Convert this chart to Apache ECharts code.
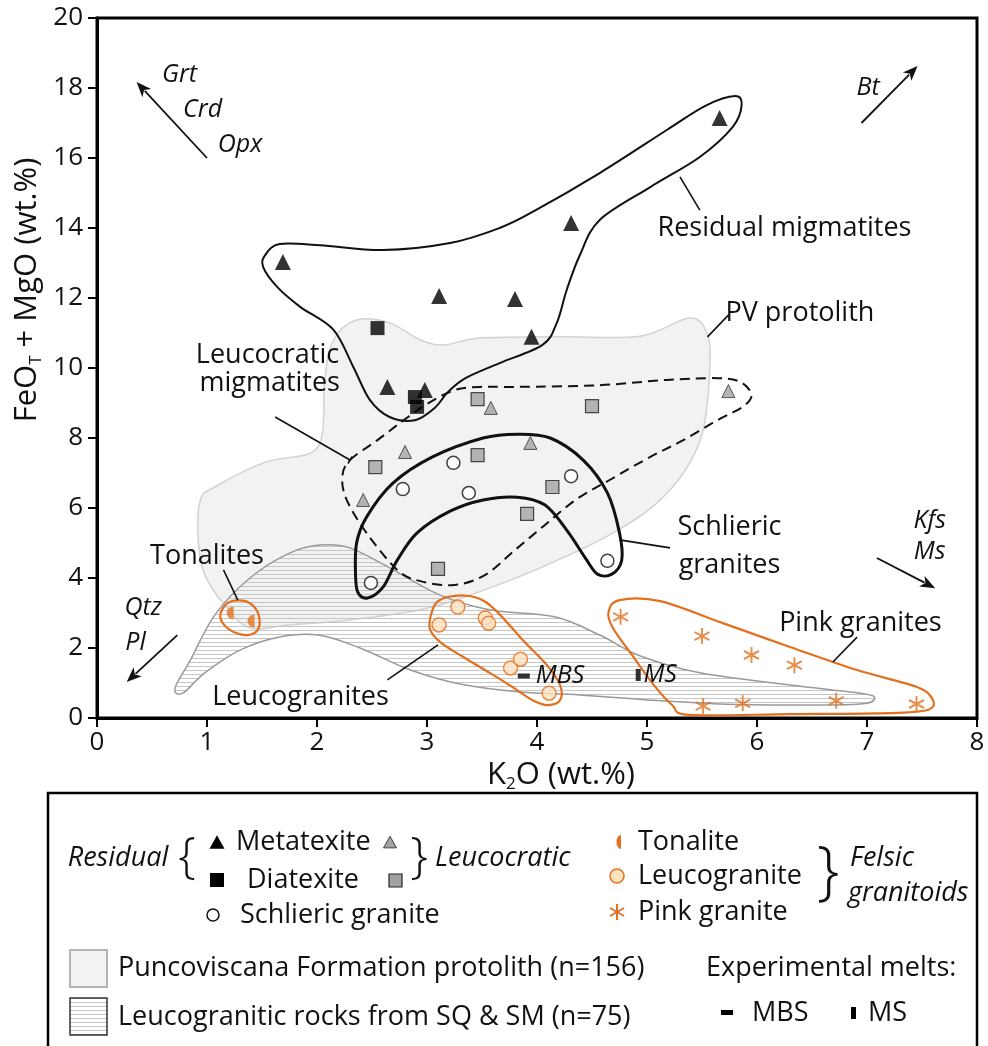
<!DOCTYPE html>
<html>
<head>
<meta charset="utf-8">
<script src="https://cdn.jsdelivr.net/npm/echarts@6/dist/echarts.min.js"></script>
<style>
html,body{margin:0;padding:0;background:#fff}
#chart{width:988px;height:1046px}
</style>
</head>
<body>
<div id="chart"></div>
<script>
// ---- samples: [K2O wt.%, FeOT+MgO wt.%] ----
const metatexite = [[1.69,13.03],[3.11,12.06],[3.80,11.97],[3.95,10.89],[4.31,14.14],[5.66,17.14],[2.64,9.46],[2.98,9.37]];
const diatexite = [[2.55,11.14],[2.89,9.17],[2.91,8.89]];
const leucoMetatexite = [[3.58,8.86],[2.80,7.60],[3.94,7.86],[2.42,6.23],[5.74,9.34]];
const leucoDiatexite = [[3.46,9.11],[4.50,8.91],[2.53,7.17],[3.46,7.51],[4.14,6.60],[3.91,5.83],[3.10,4.26]];
const schliericGranite = [[3.24,7.29],[2.78,6.54],[3.38,6.43],[4.31,6.91],[4.64,4.49],[2.49,3.86]];
const tonalite = [[1.21,3.00],[1.40,2.77]];
const leucogranite = [[3.28,3.17],[3.11,2.66],[3.53,2.86],[3.56,2.71],[3.76,1.43],[3.85,1.68],[4.11,0.71]];
const pinkGranite = [[4.76,2.89],[5.50,2.34],[5.95,1.80],[6.34,1.51],[5.51,0.34],[5.87,0.42],[6.72,0.49],[7.45,0.40]];
const meltMBS = [[3.88,1.20]];
const meltMS = [[4.92,1.23]];

// ---- compositional fields (outline vertices, data units) ----
const pvProtolith = [[2.36,11.37],[2.66,11.29],[2.94,10.8],[3.16,10.66],[3.48,10.86],[4.21,10.89],[4.94,10.91],[5.39,11.43],[5.55,10.94],[5.57,9.94],[5.51,8.23],[5.35,7.09],[5.07,6.09],[4.66,5.23],[4.03,4.29],[3.39,3.51],[2.94,3.09],[2.3,2.8],[1.75,2.66],[1.39,2.57],[1.16,3.23],[0.98,4.09],[0.92,5.09],[0.94,6.23],[1.07,6.6],[1.53,7.31],[1.94,7.57],[2.05,8.17],[2.07,9.66],[2.15,10.8]];
const sqsmField = [[0.71,0.86],[0.85,1.66],[1.07,2.94],[1.39,4.0],[1.75,4.71],[2.03,4.94],[2.3,4.86],[2.66,4.29],[3.12,3.51],[3.57,3.09],[4.16,2.89],[4.57,2.37],[4.94,1.77],[5.48,1.29],[6.3,0.94],[6.94,0.71],[7.07,0.57],[6.94,0.4],[6.3,0.37],[5.66,0.4],[5.03,0.51],[4.39,0.66],[3.85,0.74],[3.3,0.97],[2.85,1.37],[2.39,2.0],[2.01,2.37],[1.65,2.31],[1.3,1.94],[0.98,1.29],[0.78,0.71]];
const residualField = [[1.53,13.23],[1.66,13.54],[2.03,13.51],[2.6,13.37],[3.21,13.57],[3.66,14.0],[3.96,14.46],[4.57,15.57],[5.18,16.8],[5.53,17.49],[5.8,17.77],[5.86,17.51],[5.78,16.89],[5.48,16.03],[5.03,15.17],[4.57,14.23],[4.39,13.23],[4.27,12.23],[4.18,11.29],[4.05,10.66],[3.66,10.14],[3.35,9.71],[3.19,9.31],[3.07,8.86],[2.89,8.51],[2.66,8.6],[2.48,9.09],[2.33,10.03],[2.15,11.09],[1.85,11.74],[1.64,12.31],[1.51,12.89]];
const leucocraticField = [[2.3,7.37],[2.55,7.94],[2.78,8.49],[3.0,8.97],[3.25,9.37],[3.48,9.46],[3.82,9.46],[4.57,9.51],[5.18,9.66],[5.64,9.71],[5.85,9.6],[5.95,9.23],[5.87,8.89],[5.64,8.51],[5.33,7.94],[5.03,7.46],[4.66,6.8],[4.35,6.23],[4.07,5.51],[3.8,4.8],[3.53,4.09],[3.25,3.8],[2.94,3.91],[2.73,4.23],[2.45,5.29],[2.27,6.23],[2.23,6.89]];
const schliericField = [[2.35,4.14],[2.36,5.0],[2.45,5.74],[2.69,6.71],[3.05,7.46],[3.51,8.0],[3.82,8.11],[4.12,8.0],[4.42,7.37],[4.64,6.43],[4.75,5.29],[4.77,4.51],[4.68,4.11],[4.55,4.11],[4.44,4.57],[4.27,5.37],[4.07,6.09],[3.82,6.31],[3.51,6.23],[3.21,5.91],[2.91,5.29],[2.73,4.51],[2.6,3.74],[2.46,3.43],[2.37,3.6]];
const tonaliteField = [[1.12,2.89],[1.19,3.29],[1.35,3.34],[1.46,3.03],[1.47,2.57],[1.37,2.37],[1.21,2.51]];
const leucograniteField = [[3.03,2.86],[3.09,3.31],[3.25,3.49],[3.46,3.43],[3.62,3.09],[3.87,2.23],[4.09,1.51],[4.21,0.94],[4.21,0.51],[4.1,0.37],[3.96,0.51],[3.75,0.94],[3.57,1.29],[3.3,1.8],[3.12,2.17],[3.03,2.51]];
const pinkGraniteField = [[4.65,3.03],[4.75,3.37],[5.12,3.34],[5.69,2.71],[6.3,2.03],[6.91,1.37],[7.45,0.89],[7.6,0.51],[7.55,0.23],[7.21,0.14],[6.3,0.11],[5.39,0.09],[5.23,0.37],[5.07,0.91],[4.85,1.86],[4.69,2.57]];

// ---- field names, callout leaders and mineral vectors (data units) ----
const fieldNames = [
  {text:'Residual migmatites', at:[6.25,14.0]},
  {text:'PV protolith', at:[6.39,11.57]},
  {text:'Leucocratic', at:[1.55,10.37]},
  {text:'migmatites', at:[1.57,9.57]},
  {text:'Tonalites', at:[1.0,4.63]},
  {text:'Schlieric', at:[5.75,5.46]},
  {text:'granites', at:[5.75,4.37]},
  {text:'Leucogranites', at:[1.85,0.6]},
  {text:'Pink granites', at:[6.94,2.71]}
];
const leaders = [
  [[5.30,15.46],[5.48,14.51]],
  [[5.55,10.89],[5.74,11.51]],
  [[1.62,8.60],[2.30,7.37]],
  [[4.75,5.09],[5.21,4.86]],
  [[1.15,4.23],[1.28,3.37]],
  [[2.64,1.09],[3.10,2.09]],
  [[6.69,1.60],[6.91,2.31]]
];
const vectors = [
  {from:[1.00,16.00], to:[0.36,18.17]},
  {from:[6.95,17.00], to:[7.46,18.63]},
  {from:[7.09,4.57], to:[7.62,3.71]},
  {from:[0.73,2.37], to:[0.27,1.03]}
];
const mineralNames = [
  {text:'Grt', at:[0.75,18.37]}, {text:'Crd', at:[0.96,17.37]}, {text:'Opx', at:[1.30,16.37]},
  {text:'Bt', at:[7.01,18.0]},
  {text:'Kfs', at:[7.57,5.63]}, {text:'Ms', at:[7.57,4.74]},
  {text:'Qtz', at:[0.42,3.14]}, {text:'Pl', at:[0.35,2.14]},
  {text:'MBS', at:[4.21,1.20]}, {text:'MS', at:[5.12,1.23]}
];

const FONT = "'Open Sans', 'Noto Sans', sans-serif";
const ORANGE = '#e3701e';
const GREY_MARK = '#a2a2a2';

function makeHatch() {
  const c = document.createElement('canvas');
  c.width = 8; c.height = 4;
  const g = c.getContext('2d');
  g.strokeStyle = '#c6c6c6';
  g.lineWidth = 1;
  g.beginPath(); g.moveTo(0, 2.5); g.lineTo(8, 2.5); g.stroke();
  return c;
}
const hatch = {image: makeHatch(), repeat: 'repeat'};

// drawing order and look of each field
const fieldLayers = [
  {points: pvProtolith, style: {fill:'#f2f2f2', stroke:'#d2d2d2', lineWidth:1.5}},
  {points: sqsmField, style: {fill:hatch, stroke:'#9a9a9a', lineWidth:1.5}},
  {points: residualField, style: {fill:'none', stroke:'#111', lineWidth:2}},
  {points: leucocraticField, style: {fill:'none', stroke:'#111', lineWidth:2, lineDash:[10,6]}},
  {points: schliericField, style: {fill:'none', stroke:'#111', lineWidth:3}},
  {points: tonaliteField, style: {fill:'none', stroke:ORANGE, lineWidth:2.2}},
  {points: leucograniteField, style: {fill:'none', stroke:ORANGE, lineWidth:2.2}},
  {points: pinkGraniteField, style: {fill:'none', stroke:ORANGE, lineWidth:2.2}}
];

// closed Catmull-Rom spline through the vertices, as cubic Beziers
function closedSpline(pts) {
  const n = pts.length;
  let d = 'M' + pts[0][0] + ',' + pts[0][1];
  for (let i = 0; i < n; i++) {
    const p0 = pts[(i - 1 + n) % n], p1 = pts[i], p2 = pts[(i + 1) % n], p3 = pts[(i + 2) % n];
    const c1 = [p1[0] + (p2[0] - p0[0]) / 6, p1[1] + (p2[1] - p0[1]) / 6];
    const c2 = [p2[0] - (p3[0] - p1[0]) / 6, p2[1] - (p3[1] - p1[1]) / 6];
    d += ' C' + c1[0] + ',' + c1[1] + ' ' + c2[0] + ',' + c2[1] + ' ' + p2[0] + ',' + p2[1];
  }
  return d + ' Z';
}

const HALF_DISC = 'path://M10,0 A10,10 0 0 0 10,20 Z';
const ASTERISK = 'path://M10,0 L10,20 M1.34,5 L18.66,15 M1.34,15 L18.66,5';

const chart = echarts.init(document.getElementById('chart'));

const axisText = {fontFamily: FONT, fontSize: 26, color: '#111'};

chart.setOption({
  animation: false,
  grid: {left: 97, right: 11, top: 18, bottom: 328, show: true, borderColor: '#000', borderWidth: 3, backgroundColor: 'transparent'},
  xAxis: {
    type: 'value', min: 0, max: 8, interval: 1,
    axisLine: {show: true, onZero: false, lineStyle: {color: '#000', width: 3}},
    axisTick: {show: true, inside: false, length: 9, lineStyle: {color: '#000', width: 2}},
    axisLabel: Object.assign({margin: 12}, axisText),
    splitLine: {show: false}
  },
  yAxis: {
    type: 'value', min: 0, max: 20, interval: 2,
    axisLine: {show: true, onZero: false, lineStyle: {color: '#000', width: 3}},
    axisTick: {show: true, inside: false, length: 9, lineStyle: {color: '#000', width: 2}},
    axisLabel: Object.assign({margin: 14}, axisText),
    splitLine: {show: false}
  },
  series: [
    {
      type: 'custom', coordinateSystem: 'cartesian2d', silent: true, z: 1,
      data: fieldLayers.map(l => l.points[0]),
      renderItem: function (params, api) {
        const layer = fieldLayers[params.dataIndex];
        const pts = layer.points.map(p => api.coord(p));
        return {type: 'path', shape: {pathData: closedSpline(pts)}, style: layer.style};
      }
    },
    {type: 'scatter', z: 5, data: metatexite, symbol: 'triangle', symbolSize: 16, itemStyle: {color: '#000'}},
    {type: 'scatter', z: 5, data: diatexite, symbol: 'rect', symbolSize: 14, itemStyle: {color: '#000'}},
    {type: 'scatter', z: 5, data: leucoMetatexite, symbol: 'triangle', symbolSize: 13, itemStyle: {color: GREY_MARK, borderColor: '#333', borderWidth: 1}},
    {type: 'scatter', z: 5, data: leucoDiatexite, symbol: 'rect', symbolSize: 13, itemStyle: {color: GREY_MARK, borderColor: '#222', borderWidth: 1.2}},
    {type: 'scatter', z: 5, data: schliericGranite, symbol: 'circle', symbolSize: 13, itemStyle: {color: '#fff', borderColor: '#111', borderWidth: 1.5}},
    {type: 'scatter', z: 5, data: tonalite, symbol: HALF_DISC, symbolSize: [7, 13], itemStyle: {color: ORANGE}},
    {type: 'scatter', z: 5, data: leucogranite, symbol: 'circle', symbolSize: 14, itemStyle: {color: '#fde2c2', borderColor: ORANGE, borderWidth: 1.5}},
    {type: 'scatter', z: 5, data: pinkGranite, symbol: ASTERISK, symbolSize: [15, 16], itemStyle: {color: 'none', borderColor: ORANGE, borderWidth: 2}},
    {type: 'scatter', z: 5, data: meltMBS, symbol: 'rect', symbolSize: [12, 5], itemStyle: {color: '#000'}},
    {type: 'scatter', z: 5, data: meltMS, symbol: 'rect', symbolSize: [5, 12], itemStyle: {color: '#000'}}
  ]
});

// ---- annotations placed through the axes ----
const toPx = p => chart.convertToPixel({gridIndex: 0}, p);
const graphics = [];

fieldNames.forEach(f => {
  const p = toPx(f.at);
  graphics.push({type: 'text', x: p[0], y: p[1], z: 20, style: {text: f.text, fontFamily: FONT, fontSize: 27, fill: '#111', align: 'center', verticalAlign: 'middle'}});
});
leaders.forEach(l => {
  const a = toPx(l[0]), b = toPx(l[1]);
  graphics.push({type: 'line', z: 20, shape: {x1: a[0], y1: a[1], x2: b[0], y2: b[1]}, style: {stroke: '#111', lineWidth: 1.6}});
});
// short cross-bar at the end of the leucocratic leader
(function () {
  const a = toPx(leaders[2][0]), b = toPx(leaders[2][1]);
  const dx = b[0] - a[0], dy = b[1] - a[1], L = Math.hypot(dx, dy);
  const nx = -dy / L * 4, ny = dx / L * 4;
  graphics.push({type: 'line', z: 20, shape: {x1: b[0] - nx, y1: b[1] - ny, x2: b[0] + nx, y2: b[1] + ny}, style: {stroke: '#111', lineWidth: 1.6}});
})();
vectors.forEach(v => {
  const a = toPx(v.from), b = toPx(v.to);
  const dx = b[0] - a[0], dy = b[1] - a[1], L = Math.hypot(dx, dy);
  const ux = dx / L, uy = dy / L, hl = 15, hw = 6;
  const base = [b[0] - ux * hl, b[1] - uy * hl];
  graphics.push({type: 'line', z: 20, shape: {x1: a[0], y1: a[1], x2: base[0] + ux * 3, y2: base[1] + uy * 3}, style: {stroke: '#111', lineWidth: 1.8}});
  graphics.push({type: 'polygon', z: 20, shape: {points: [b, [base[0] - uy * hw, base[1] + ux * hw], [base[0] + ux * 4, base[1] + uy * 4], [base[0] + uy * hw, base[1] - ux * hw]]}, style: {fill: '#111'}});
});
mineralNames.forEach(m => {
  const p = toPx(m.at);
  graphics.push({type: 'text', x: p[0], y: p[1], z: 20, style: {text: m.text, fontFamily: FONT, fontStyle: 'italic', fontSize: 25, fill: '#111', align: 'center', verticalAlign: 'middle'}});
});

// axis titles
graphics.push({
  type: 'text', x: 27, y: 290, rotation: Math.PI / 2, z: 20,
  style: {
    text: '{a|FeO}{s|T}{a| + MgO (wt.%)}', align: 'center', verticalAlign: 'middle',
    rich: {
      a: {fontFamily: FONT, fontSize: 31, fill: '#111', lineHeight: 36},
      s: {fontFamily: FONT, fontSize: 17, fill: '#111', lineHeight: 16, verticalAlign: 'bottom'}
    }
  }
});
graphics.push({
  type: 'text', x: 561, y: 775, z: 20,
  style: {
    text: '{a|K}{s|2}{a|O (wt.%)}', align: 'center', verticalAlign: 'middle',
    rich: {
      a: {fontFamily: FONT, fontSize: 31, fill: '#111', lineHeight: 36},
      s: {fontFamily: FONT, fontSize: 17, fill: '#111', lineHeight: 16, verticalAlign: 'bottom'}
    }
  }
});

// ---- key ----
const LF = 27;
function keyText(t, x, y, opt) {
  return {type: 'text', x: x, y: y, z: 30, style: Object.assign({text: t, fontFamily: FONT, fontSize: LF, fill: '#111', align: 'left', verticalAlign: 'middle'}, opt || {})};
}
function tri(cx, cy, s, fill, stroke) {
  const h = s * 0.9;
  return {type: 'polygon', z: 30, shape: {points: [[cx, cy - h / 2], [cx + s / 2, cy + h / 2], [cx - s / 2, cy + h / 2]]}, style: {fill: fill, stroke: stroke || null, lineWidth: 1}};
}
function halfDisc(cx, cy, rx, ry) {
  const pts = [];
  for (let i = 0; i <= 16; i++) {
    const t = Math.PI / 2 + Math.PI * i / 16;
    pts.push([cx + rx * Math.cos(t), cy - ry * Math.sin(t)]);
  }
  return {type: 'polygon', z: 30, shape: {points: pts}, style: {fill: ORANGE}};
}
graphics.push({type: 'rect', z: 29, shape: {x: 48, y: 793, width: 929, height: 270}, style: {fill: '#fff', stroke: '#000', lineWidth: 2.5}});
graphics.push(keyText('Residual', 118, 858, {fontStyle: 'italic', align: 'center'}));
graphics.push(keyText('{', 187, 859, {fontSize: 50, align: 'center', fontWeight: 300}));
graphics.push(tri(217, 842, 15, '#000'));
graphics.push(keyText('Metatexite', 236, 842));
graphics.push(tri(390, 842, 13, GREY_MARK, '#444'));
graphics.push({type: 'rect', z: 30, shape: {x: 210, y: 873, width: 14, height: 14}, style: {fill: '#000'}});
graphics.push(keyText('Diatexite', 247, 880));
graphics.push({type: 'rect', z: 30, shape: {x: 389, y: 874, width: 13, height: 13}, style: {fill: GREY_MARK, stroke: '#222', lineWidth: 1.2}});
graphics.push(keyText('}', 419, 859, {fontSize: 50, align: 'center', fontWeight: 300}));
graphics.push(keyText('Leucocratic', 435, 858, {fontStyle: 'italic'}));
graphics.push({type: 'circle', z: 30, shape: {cx: 213, cy: 915, r: 6}, style: {fill: '#fff', stroke: '#111', lineWidth: 1.5}});
graphics.push(keyText('Schlieric granite', 240, 915));

graphics.push({type: 'rect', z: 30, shape: {x: 70, y: 950, width: 37, height: 37}, style: {fill: '#f2f2f2', stroke: '#b5b5b5', lineWidth: 2}});
graphics.push(keyText('Puncoviscana Formation protolith (n=156)', 118, 968));
graphics.push({type: 'rect', z: 30, shape: {x: 70, y: 998, width: 37, height: 37}, style: {fill: hatch, stroke: '#333', lineWidth: 1.5}});
graphics.push(keyText('Leucogranitic rocks from SQ & SM (n=75)', 118, 1017));

graphics.push(halfDisc(621, 842, 4.5, 7));
graphics.push(keyText('Tonalite', 638, 842));
graphics.push({type: 'circle', z: 30, shape: {cx: 617, cy: 876, r: 7}, style: {fill: '#fde2c2', stroke: ORANGE, lineWidth: 1.5}});
graphics.push(keyText('Leucogranite', 638, 876));
[[617, 904, 617, 920], [610, 908, 624, 916], [610, 916, 624, 908]].forEach(s => {
  graphics.push({type: 'line', z: 30, shape: {x1: s[0], y1: s[1], x2: s[2], y2: s[3]}, style: {stroke: ORANGE, lineWidth: 2}});
});
graphics.push(keyText('Pink granite', 638, 912));
graphics.push(keyText('}', 828, 874, {fontSize: 64, align: 'center', fontWeight: 300}));
graphics.push(keyText('Felsic', 850, 858, {fontStyle: 'italic'}));
graphics.push(keyText('granitoids', 848, 893, {fontStyle: 'italic'}));

graphics.push(keyText('Experimental melts:', 706, 968));
graphics.push({type: 'rect', z: 30, shape: {x: 721, y: 1010, width: 12, height: 5}, style: {fill: '#000'}});
graphics.push(keyText('MBS', 752, 1013));
graphics.push({type: 'rect', z: 30, shape: {x: 851, y: 1007, width: 5, height: 12}, style: {fill: '#000'}});
graphics.push(keyText('MS', 868, 1013));

chart.setOption({graphic: graphics});
</script>
</body>
</html>
